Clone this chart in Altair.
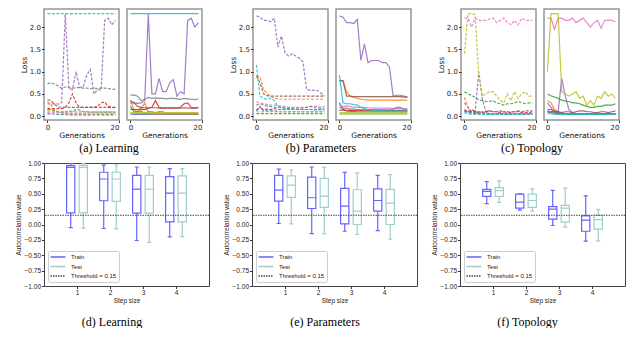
import altair as alt
import pandas as pd

# ---------------- data ----------------
GENS = list(range(20))
RUNS = ["blue", "orange", "green", "red", "purple", "brown", "pink", "gray", "olive", "cyan"]
TAB10 = ["#1f77b4", "#ff7f0e", "#2ca02c", "#d62728", "#9467bd",
         "#8c564b", "#e377c2", "#7f7f7f", "#bcbd22", "#17becf"]

learning_train = {
    "blue":   [0.06, 0.05, 0.05, 0.04, 0.04, 0.04, 0.03, 0.03, 0.03, 0.03, 0.03, 0.03, 0.03, 0.03, 0.03, 0.03, 0.03, 0.03, 0.03, 0.03],
    "orange": [0.33, 0.26, 0.12, 0.10, 0.10, 0.08, 0.06, 0.05, 0.05, 0.05, 0.05, 0.05, 0.05, 0.05, 0.05, 0.05, 0.05, 0.05, 0.05, 0.05],
    "green":  [0.15, 0.15, 0.12, 0.10, 0.08, 0.10, 0.12, 0.10, 0.15, 0.14, 0.10, 0.10, 0.09, 0.09, 0.09, 0.09, 0.09, 0.09, 0.09, 0.09],
    "red":    [0.18, 0.17, 0.17, 0.17, 0.17, 0.20, 0.30, 0.50, 0.30, 0.20, 0.20, 0.20, 0.20, 0.20, 0.22, 0.30, 0.32, 0.22, 0.20, 0.20],
    "purple": [0.28, 0.27, 0.28, 0.27, 0.30, 2.30, 0.62, 0.60, 1.00, 0.65, 0.66, 0.92, 1.05, 0.50, 0.60, 0.58, 2.15, 2.20, 2.05, 2.15],
    "brown":  [0.37, 0.35, 0.26, 0.21, 0.20, 0.20, 0.20, 0.20, 0.20, 0.20, 0.20, 0.20, 0.20, 0.20, 0.20, 0.20, 0.20, 0.20, 0.19, 0.20],
    "pink":   [0.09, 0.09, 0.08, 0.08, 0.08, 0.07, 0.07, 0.07, 0.07, 0.07, 0.07, 0.07, 0.07, 0.07, 0.07, 0.07, 0.07, 0.07, 0.07, 0.07],
    "gray":   [0.73, 0.75, 0.72, 0.68, 0.62, 0.66, 0.64, 0.63, 0.64, 0.64, 0.63, 0.63, 0.62, 0.63, 0.62, 0.63, 0.63, 0.62, 0.61, 0.60],
    "olive":  [0.12, 0.12, 0.11, 0.10, 0.10, 0.10, 0.10, 0.10, 0.10, 0.10, 0.10, 0.10, 0.10, 0.10, 0.10, 0.10, 0.10, 0.10, 0.10, 0.10],
    "cyan":   [2.30, 2.30, 2.30, 2.30, 2.30, 2.30, 2.30, 2.30, 2.30, 2.30, 2.30, 2.30, 2.30, 2.30, 2.30, 2.30, 2.30, 2.30, 2.30, 2.30],
}
learning_test = {
    "blue":   [0.05, 0.04, 0.04, 0.04, 0.04, 0.04, 0.04, 0.04, 0.04, 0.04, 0.04, 0.04, 0.04, 0.04, 0.04, 0.04, 0.04, 0.04, 0.04, 0.04],
    "orange": [0.35, 0.15, 0.10, 0.18, 0.30, 0.06, 0.05, 0.05, 0.05, 0.05, 0.05, 0.05, 0.05, 0.05, 0.05, 0.05, 0.05, 0.05, 0.05, 0.05],
    "green":  [0.22, 0.10, 0.10, 0.12, 0.05, 0.10, 0.10, 0.08, 0.10, 0.10, 0.07, 0.07, 0.07, 0.07, 0.07, 0.07, 0.07, 0.07, 0.07, 0.07],
    "red":    [0.15, 0.15, 0.15, 0.16, 0.15, 0.18, 0.20, 0.35, 0.20, 0.18, 0.18, 0.18, 0.18, 0.18, 0.20, 0.28, 0.30, 0.20, 0.18, 0.19],
    "purple": [0.30, 0.30, 0.29, 0.30, 0.35, 2.30, 0.50, 0.50, 0.85, 0.55, 0.55, 0.75, 0.82, 0.45, 0.55, 0.50, 2.15, 2.20, 2.00, 2.10],
    "brown":  [0.35, 0.30, 0.22, 0.20, 0.19, 0.19, 0.19, 0.19, 0.18, 0.18, 0.19, 0.19, 0.19, 0.18, 0.18, 0.19, 0.18, 0.18, 0.18, 0.20],
    "pink":   [0.06, 0.06, 0.06, 0.06, 0.06, 0.06, 0.06, 0.06, 0.06, 0.06, 0.06, 0.06, 0.06, 0.06, 0.06, 0.06, 0.06, 0.06, 0.06, 0.06],
    "gray":   [0.47, 0.48, 0.45, 0.35, 0.38, 0.42, 0.40, 0.41, 0.40, 0.40, 0.39, 0.40, 0.40, 0.39, 0.38, 0.40, 0.39, 0.38, 0.37, 0.39],
    "olive":  [0.08, 0.08, 0.08, 0.08, 0.08, 0.08, 0.08, 0.08, 0.08, 0.08, 0.08, 0.08, 0.08, 0.08, 0.08, 0.08, 0.08, 0.08, 0.08, 0.08],
    "cyan":   [2.30, 2.30, 2.30, 2.30, 2.30, 2.30, 2.30, 2.30, 2.30, 2.30, 2.30, 2.30, 2.30, 2.30, 2.30, 2.30, 2.30, 2.30, 2.30, 2.30],
}
params_train = {
    "blue":   [0.12, 0.22, 0.12, 0.12, 0.12, 0.12, 0.10, 0.10, 0.10, 0.10, 0.10, 0.10, 0.10, 0.10, 0.10, 0.10, 0.10, 0.10, 0.10, 0.10],
    "orange": [0.90, 0.88, 0.60, 0.50, 0.45, 0.40, 0.39, 0.38, 0.38, 0.38, 0.38, 0.38, 0.38, 0.38, 0.38, 0.38, 0.38, 0.38, 0.38, 0.38],
    "green":  [0.06, 0.06, 0.06, 0.06, 0.06, 0.06, 0.06, 0.06, 0.06, 0.06, 0.06, 0.06, 0.06, 0.06, 0.06, 0.06, 0.06, 0.06, 0.06, 0.06],
    "red":    [0.15, 0.18, 0.15, 0.16, 0.15, 0.17, 0.15, 0.15, 0.15, 0.15, 0.15, 0.15, 0.15, 0.15, 0.15, 0.15, 0.15, 0.15, 0.15, 0.15],
    "purple": [2.25, 2.22, 2.15, 2.15, 2.12, 2.20, 1.55, 1.80, 1.42, 1.35, 1.40, 1.35, 1.30, 1.22, 0.60, 0.58, 0.58, 0.58, 0.52, 0.45],
    "brown":  [0.90, 0.75, 0.50, 0.46, 0.45, 0.45, 0.45, 0.45, 0.45, 0.45, 0.45, 0.45, 0.45, 0.45, 0.45, 0.45, 0.45, 0.45, 0.45, 0.45],
    "pink":   [0.33, 0.30, 0.28, 0.26, 0.25, 0.25, 0.24, 0.22, 0.22, 0.20, 0.20, 0.20, 0.20, 0.20, 0.20, 0.22, 0.22, 0.22, 0.20, 0.22],
    "gray":   [0.25, 0.28, 0.25, 0.22, 0.22, 0.20, 0.20, 0.20, 0.18, 0.18, 0.18, 0.18, 0.18, 0.18, 0.20, 0.22, 0.20, 0.18, 0.18, 0.18],
    "olive":  [0.10, 0.10, 0.10, 0.10, 0.10, 0.10, 0.10, 0.10, 0.10, 0.10, 0.10, 0.10, 0.10, 0.10, 0.10, 0.10, 0.10, 0.10, 0.10, 0.10],
    "cyan":   [1.15, 0.45, 0.40, 0.38, 0.40, 0.35, 0.22, 0.20, 0.18, 0.17, 0.16, 0.15, 0.15, 0.15, 0.15, 0.15, 0.14, 0.14, 0.14, 0.14],
}
params_test = {
    "blue":   [0.30, 0.15, 0.12, 0.11, 0.11, 0.10, 0.10, 0.10, 0.10, 0.10, 0.10, 0.10, 0.10, 0.10, 0.10, 0.10, 0.10, 0.10, 0.10, 0.10],
    "orange": [0.80, 0.80, 0.55, 0.45, 0.42, 0.40, 0.38, 0.37, 0.36, 0.36, 0.36, 0.36, 0.36, 0.36, 0.36, 0.36, 0.36, 0.36, 0.36, 0.36],
    "green":  [0.05, 0.05, 0.05, 0.05, 0.05, 0.05, 0.05, 0.05, 0.05, 0.05, 0.05, 0.05, 0.05, 0.05, 0.05, 0.05, 0.05, 0.05, 0.05, 0.05],
    "red":    [0.13, 0.14, 0.13, 0.13, 0.13, 0.13, 0.13, 0.13, 0.13, 0.13, 0.13, 0.13, 0.13, 0.13, 0.13, 0.13, 0.13, 0.13, 0.13, 0.13],
    "purple": [2.25, 2.22, 2.10, 2.10, 2.08, 2.17, 1.25, 1.62, 1.20, 1.25, 1.25, 1.25, 1.20, 1.20, 1.10, 0.45, 0.47, 0.47, 0.45, 0.43],
    "brown":  [0.80, 0.80, 0.45, 0.45, 0.44, 0.44, 0.44, 0.44, 0.44, 0.44, 0.44, 0.44, 0.44, 0.44, 0.44, 0.44, 0.44, 0.44, 0.43, 0.43],
    "pink":   [0.25, 0.22, 0.23, 0.22, 0.20, 0.20, 0.20, 0.20, 0.19, 0.18, 0.18, 0.18, 0.18, 0.18, 0.18, 0.17, 0.17, 0.17, 0.17, 0.17],
    "gray":   [0.20, 0.18, 0.18, 0.16, 0.16, 0.15, 0.15, 0.14, 0.14, 0.14, 0.14, 0.14, 0.14, 0.14, 0.14, 0.16, 0.20, 0.20, 0.15, 0.14],
    "olive":  [0.08, 0.08, 0.08, 0.08, 0.08, 0.08, 0.08, 0.08, 0.08, 0.08, 0.08, 0.08, 0.08, 0.08, 0.08, 0.08, 0.08, 0.08, 0.08, 0.08],
    "cyan":   [0.92, 0.30, 0.28, 0.28, 0.26, 0.25, 0.20, 0.17, 0.15, 0.14, 0.13, 0.13, 0.12, 0.12, 0.12, 0.12, 0.12, 0.12, 0.12, 0.12],
}
topo_train = {
    "blue":   [0.12, 0.08, 0.07, 0.06, 0.05, 0.05, 0.05, 0.04, 0.04, 0.04, 0.04, 0.04, 0.04, 0.04, 0.04, 0.04, 0.04, 0.04, 0.04, 0.04],
    "orange": [0.42, 0.20, 0.10, 0.08, 0.07, 0.07, 0.06, 0.06, 0.06, 0.06, 0.06, 0.06, 0.06, 0.06, 0.06, 0.06, 0.06, 0.06, 0.06, 0.06],
    "green":  [0.55, 0.50, 0.47, 0.42, 0.37, 0.35, 0.33, 0.33, 0.35, 0.30, 0.28, 0.25, 0.28, 0.28, 0.30, 0.33, 0.30, 0.28, 0.30, 0.30],
    "red":    [0.15, 0.10, 0.15, 0.10, 0.08, 0.10, 0.10, 0.12, 0.10, 0.10, 0.08, 0.10, 0.10, 0.10, 0.10, 0.10, 0.08, 0.08, 0.08, 0.10],
    "purple": [0.30, 0.20, 0.10, 0.10, 1.00, 0.40, 0.10, 0.05, 0.05, 0.05, 0.05, 0.05, 0.05, 0.05, 0.05, 0.05, 0.05, 0.05, 0.05, 0.05],
    "brown":  [0.10, 0.12, 0.10, 0.12, 0.10, 0.08, 0.10, 0.12, 0.10, 0.10, 0.12, 0.10, 0.08, 0.08, 0.10, 0.12, 0.10, 0.12, 0.12, 0.12],
    "pink":   [2.20, 2.20, 2.00, 2.20, 2.15, 2.15, 2.15, 2.18, 2.20, 2.10, 2.15, 2.20, 2.10, 2.05, 2.15, 2.05, 2.20, 2.15, 2.15, 2.15],
    "gray":   [0.10, 0.10, 0.08, 0.08, 0.07, 0.07, 0.07, 0.06, 0.06, 0.06, 0.06, 0.06, 0.06, 0.06, 0.06, 0.06, 0.06, 0.06, 0.06, 0.06],
    "olive":  [1.40, 2.30, 2.30, 2.28, 0.90, 0.45, 0.50, 0.55, 0.55, 0.45, 0.35, 0.30, 0.50, 0.35, 0.55, 0.40, 0.50, 0.55, 0.45, 0.45],
    "cyan":   [0.08, 0.05, 0.04, 0.04, 0.04, 0.04, 0.04, 0.04, 0.04, 0.04, 0.04, 0.04, 0.04, 0.04, 0.04, 0.04, 0.04, 0.04, 0.04, 0.04],
}
topo_test = {
    "blue":   [0.12, 0.08, 0.07, 0.06, 0.05, 0.05, 0.05, 0.05, 0.05, 0.05, 0.05, 0.05, 0.05, 0.05, 0.05, 0.05, 0.05, 0.05, 0.05, 0.05],
    "orange": [0.35, 0.30, 0.15, 0.10, 0.08, 0.06, 0.06, 0.06, 0.06, 0.06, 0.06, 0.06, 0.06, 0.06, 0.06, 0.06, 0.06, 0.06, 0.06, 0.06],
    "green":  [0.50, 0.46, 0.43, 0.40, 0.36, 0.34, 0.33, 0.30, 0.30, 0.28, 0.25, 0.22, 0.20, 0.20, 0.22, 0.22, 0.25, 0.25, 0.25, 0.28],
    "red":    [0.15, 0.15, 0.10, 0.08, 0.05, 0.05, 0.04, 0.04, 0.04, 0.04, 0.04, 0.04, 0.04, 0.04, 0.04, 0.04, 0.04, 0.04, 0.04, 0.04],
    "purple": [0.30, 0.20, 0.10, 0.10, 0.85, 0.45, 0.15, 0.08, 0.06, 0.06, 0.06, 0.06, 0.06, 0.06, 0.06, 0.06, 0.06, 0.06, 0.06, 0.06],
    "brown":  [0.10, 0.10, 0.12, 0.10, 0.08, 0.10, 0.10, 0.08, 0.10, 0.12, 0.12, 0.10, 0.10, 0.08, 0.08, 0.10, 0.10, 0.08, 0.10, 0.12],
    "pink":   [2.20, 2.20, 1.95, 2.20, 2.20, 2.15, 2.15, 2.20, 2.10, 2.15, 2.20, 2.10, 2.00, 2.10, 2.15, 1.97, 2.15, 2.15, 2.15, 2.12],
    "gray":   [0.09, 0.09, 0.08, 0.07, 0.07, 0.06, 0.06, 0.06, 0.06, 0.06, 0.06, 0.06, 0.06, 0.06, 0.06, 0.06, 0.06, 0.06, 0.06, 0.06],
    "olive":  [1.00, 2.30, 2.30, 2.30, 0.55, 0.50, 0.45, 0.50, 0.55, 0.40, 0.45, 0.25, 0.35, 0.25, 0.45, 0.40, 0.55, 0.45, 0.50, 0.40],
    "cyan":   [0.07, 0.05, 0.04, 0.04, 0.04, 0.04, 0.04, 0.04, 0.04, 0.04, 0.04, 0.04, 0.04, 0.04, 0.04, 0.04, 0.04, 0.04, 0.04, 0.04],
}

STEPS = [1, 2, 3, 4]
THRESHOLD = 0.15
learning_box_train = {"low": [-0.05, -0.065, -0.26, -0.20], "q1": [0.19, 0.386, 0.185, 0.043], "med": [0.93, 0.74, 0.576, 0.51], "q3": [0.957, 0.85, 0.80, 0.78], "high": [0.99, 0.967, 0.935, 0.91]}
learning_box_test = {"low": [-0.06, -0.07, -0.29, -0.196], "q1": [0.19, 0.375, 0.185, 0.043], "med": [0.93, 0.74, 0.576, 0.51], "q3": [0.96, 0.85, 0.80, 0.79], "high": [0.99, 0.967, 0.935, 0.91]}
params_box_train = {"low": [0.016, -0.147, -0.11, -0.10], "q1": [0.38, 0.26, 0.01, 0.217], "med": [0.56, 0.435, 0.30, 0.39], "q3": [0.80, 0.77, 0.587, 0.58], "high": [0.90, 0.935, 0.848, 0.80]}
params_box_test = {"low": [0.01, -0.147, -0.163, -0.24], "q1": [0.44, 0.277, 0.0, 0.0], "med": [0.64, 0.46, 0.217, 0.348], "q3": [0.79, 0.75, 0.565, 0.57], "high": [0.886, 0.93, 0.84, 0.81]}
topo_box_train = {"low": [0.34, 0.234, -0.016, -0.27], "q1": [0.456, 0.266, 0.087, -0.11], "med": [0.54, 0.364, 0.25, 0.07], "q3": [0.57, 0.495, 0.29, 0.14], "high": [0.696, 0.50, 0.554, 0.467]}
topo_box_test = {"low": [0.36, 0.217, -0.043, -0.266], "q1": [0.456, 0.28, 0.038, -0.076], "med": [0.55, 0.39, 0.266, 0.08], "q3": [0.60, 0.495, 0.31, 0.147], "high": [0.71, 0.58, 0.59, 0.245]}

LEGEND_ITEMS = ["Train", "Test", "Threshold = 0.15"]

# ---------------- styling helpers ----------------
TOP_H = 111
BOT_H = 123
CAPTION_FONT = "Liberation Serif"


def caption(text, dx, offset):
    return alt.TitleParams(text=text, orient="bottom", anchor="middle", frame="group",
                           dx=dx, offset=offset, font=CAPTION_FONT, fontSize=12,
                           fontWeight="normal", color="black")


def loss_panel(values, dashed, show_y, title=None):
    rows = [{"run": r, "gen": g, "loss": v} for r in RUNS for g, v in zip(GENS, values[r])]
    df = pd.DataFrame(rows)
    common = dict(labelFont="DejaVu Sans", labelFontSize=7, labelColor="#222",
                  titleFont="DejaVu Sans", titleFontSize=7.5, titleFontWeight="normal",
                  titleColor="#111", tickSize=2.5, tickColor="#333", labelPadding=1,
                  domain=False, grid=False, titlePadding=1)
    xaxis = alt.Axis(values=[0, 20], title="Generations", format="d", **common)
    yaxis = alt.Axis(values=[0, 0.5, 1.0, 1.5, 2.0], format=".1f", title="Loss", **common) if show_y else None
    mark_kw = dict(strokeWidth=1.2, opacity=0.85, clip=True)
    if dashed:
        mark_kw["strokeDash"] = [3, 1.5]
    ch = alt.Chart(df).mark_line(**mark_kw).encode(
        x=alt.X("gen:Q", scale=alt.Scale(domain=[-0.95, 20], nice=False, zero=False), axis=xaxis),
        y=alt.Y("loss:Q", scale=alt.Scale(domain=[-0.085, 2.405], nice=False, zero=False), axis=yaxis),
        color=alt.Color("run:N", scale=alt.Scale(domain=RUNS, range=TAB10), legend=None),
    )
    props = dict(width=75, height=TOP_H, view=alt.ViewBackground(stroke="#959595", strokeWidth=1.5))
    if title is not None:
        props["title"] = title
    return ch.properties(**props)


def spacer(w, h):
    return alt.Chart(pd.DataFrame({"v": [0]})).mark_point(opacity=0).encode(
        x=alt.X("v:Q", axis=None), y=alt.Y("v:Q", axis=None)
    ).properties(width=w, height=h,
                 view=alt.ViewBackground(stroke="transparent", fill="transparent"))


def box_panel(train, test, title):
    rows = []
    for series, st, off in (("Train", train, -0.19), ("Test", test, 0.19)):
        for i, s in enumerate(STEPS):
            c = s + off
            rows.append({"series": series, "xc": c, "xl": c - 0.125, "xr": c + 0.125,
                         "cl": c - 0.0625, "cr": c + 0.0625,
                         "low": st["low"][i], "q1": st["q1"][i], "med": st["med"][i],
                         "q3": st["q3"][i], "high": st["high"][i]})
    df = pd.DataFrame(rows)
    thr = pd.DataFrame({"series": ["Threshold = 0.15"], "value": [THRESHOLD]})

    common = dict(labelFont="Liberation Sans", labelFontSize=6.5, labelColor="#222",
                  titleFont="Liberation Sans", titleFontSize=6.5, titleFontWeight="normal",
                  titleColor="#222", tickSize=2.5, tickColor="#333", labelPadding=1,
                  domain=False, grid=False)
    xaxis = alt.Axis(values=STEPS, title="Step size", format="d", titlePadding=1, **common)
    yaxis = alt.Axis(values=[-1, -0.75, -0.5, -0.25, 0, 0.25, 0.5, 0.75, 1], format=".2f",
                     title="Autocorrelation value", titlePadding=3, **common)
    xs = alt.Scale(domain=[0, 5], nice=False, zero=False)
    ys = alt.Scale(domain=[-1, 1], nice=False, zero=False)
    legend = alt.Legend(title=None, orient="bottom-left", offset=4, fillColor="white",
                        strokeColor="#cccccc", cornerRadius=2, padding=2.5,
                        labelFont="Liberation Sans", labelFontSize=6, labelColor="#222",
                        symbolType="M-3,0H3", symbolSize=25, symbolStrokeWidth=1.5,
                        symbolOffset=4, labelOffset=9.5, rowPadding=2.5)
    color = alt.Color("series:N", scale=alt.Scale(domain=LEGEND_ITEMS, range=["#6464ff", "#9ecfc9", "#444444"]), legend=legend)
    dash = alt.StrokeDash("series:N", scale=alt.Scale(domain=LEGEND_ITEMS, range=[[1, 0], [1, 0], [1.5, 1]]), legend=legend)

    def X(f):
        return alt.X(f, type="quantitative", scale=xs, axis=xaxis)

    def Y(f):
        return alt.Y(f, type="quantitative", scale=ys, axis=yaxis)

    base = alt.Chart(df)
    lw = 1.2
    lower = base.mark_rule(strokeWidth=lw).encode(x=X("xc"), y=Y("low"), y2="q1:Q", color=color, strokeDash=dash)
    upper = base.mark_rule(strokeWidth=lw).encode(x=X("xc"), y=Y("q3"), y2="high:Q", color=color, strokeDash=dash)
    cap_lo = base.mark_rule(strokeWidth=lw).encode(x=X("cl"), x2="cr:Q", y=Y("low"), color=color, strokeDash=dash)
    cap_hi = base.mark_rule(strokeWidth=lw).encode(x=X("cl"), x2="cr:Q", y=Y("high"), color=color, strokeDash=dash)
    box = base.mark_bar(filled=False, strokeWidth=lw).encode(x=X("xl"), x2="xr:Q", y=Y("q1"), y2="q3:Q", color=color, strokeDash=dash)
    med = base.mark_rule(strokeWidth=lw).encode(x=X("xl"), x2="xr:Q", y=Y("med"), color=color, strokeDash=dash)
    thr_rule = alt.Chart(thr).mark_rule(strokeWidth=1).encode(y=Y("value"), color=color, strokeDash=dash)
    return alt.layer(lower, upper, cap_lo, cap_hi, box, med, thr_rule).properties(
        width=165, height=BOT_H, title=title,
        view=alt.ViewBackground(stroke="#444444", strokeWidth=1))


# ---------------- panels ----------------
a_l = loss_panel(learning_train, True, True, caption("(a) Learning", 27.5, 4))
a_r = loss_panel(learning_test, False, False)
b_l = loss_panel(params_train, True, True, caption("(b) Parameters", 30.5, 4))
b_r = loss_panel(params_test, False, False)
c_l = loss_panel(topo_train, True, True, caption("(c) Topology", 33.5, 4))
c_r = loss_panel(topo_test, False, False)

d = box_panel(learning_box_train, learning_box_test, caption("(d) Learning", -14.5, 13))
e = box_panel(params_box_train, params_box_test, caption("(e) Parameters", -9.5, 13))
f = box_panel(topo_box_train, topo_box_test, caption("(f) Topology", -15, 13))

top_row = alt.hconcat(
    a_l, a_r, spacer(35, TOP_H), b_l, b_r, spacer(34, TOP_H), c_l, c_r,
    spacing=8, bounds="flush",
)
bottom_row = alt.hconcat(
    d, spacer(27, BOT_H), e, spacer(27, BOT_H), f,
    spacing=8, bounds="flush",
).resolve_scale(color="independent", strokeDash="independent")

chart = alt.vconcat(top_row, bottom_row, spacing=4).properties(
    padding={"left": 6, "top": 0, "right": 0, "bottom": 0},
    background="white",
)

chart.save("out.html", embed_options={"renderer": "svg", "actions": False})
